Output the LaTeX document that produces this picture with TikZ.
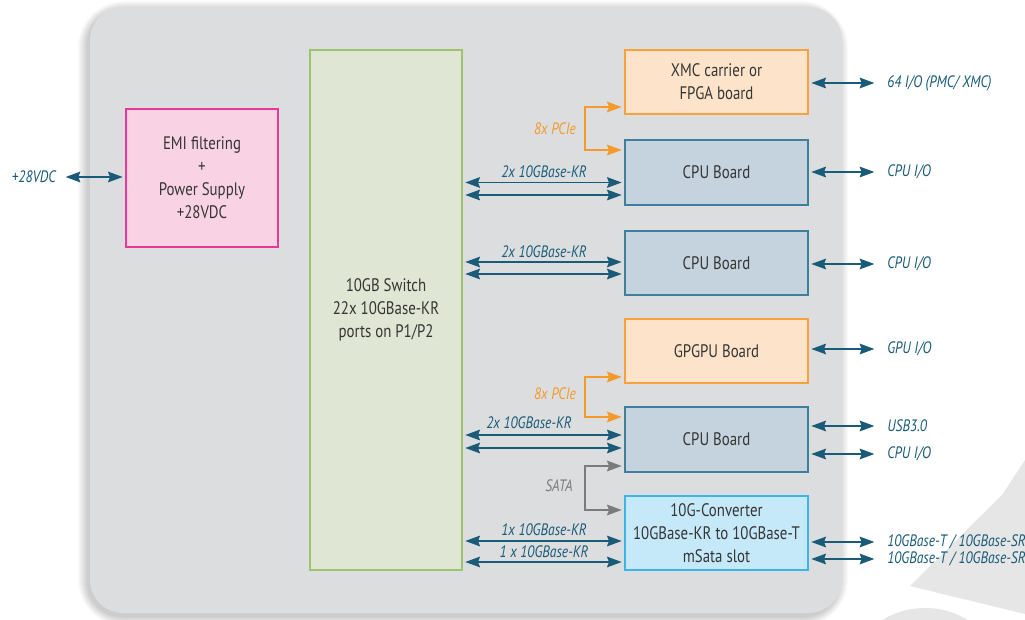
\documentclass[tikz,border=0pt]{standalone}
\usepackage{fontspec}
\setmainfont{PT Sans}[FakeStretch=0.82]
\usetikzlibrary{arrows.meta,calc}
\newdimen\pxu \pxu=0.75pt

\definecolor{panel}{HTML}{DCDDDF}
\definecolor{txt}{HTML}{353535}
\definecolor{teal}{HTML}{195B78}
\definecolor{pcieor}{HTML}{F49A2B}
\definecolor{satagr}{HTML}{7B7B7B}
\definecolor{pinkfill}{HTML}{F9D3E4}
\definecolor{pinkline}{HTML}{E8399A}
\definecolor{greenfill}{HTML}{DFE6D3}
\definecolor{greenline}{HTML}{9FC26E}
\definecolor{orfill}{HTML}{FDE3C9}
\definecolor{orline}{HTML}{F7A23C}
\definecolor{cpufill}{HTML}{C5D3DE}
\definecolor{cpuline}{HTML}{3F7F9B}
\definecolor{convfill}{HTML}{C6E9F9}
\definecolor{convline}{HTML}{3CB4E8}
\definecolor{logogray}{HTML}{E6E6E6}

\tikzset{
  board/.style={draw, line width=1pt, inner sep=0pt, align=center, text=txt,
    font=\fontsize{13.6}{17.2}\selectfont},
  pinkbox/.style={board, fill=pinkfill, draw=pinkline},
  switchbox/.style={board, fill=greenfill, draw=greenline},
  orbox/.style={board, fill=orfill, draw=orline},
  cpubox/.style={board, fill=cpufill, draw=cpuline},
  convbox/.style={board, fill=convfill, draw=convline},
  io/.style={draw=teal, line width=1.1pt, {Stealth[length=11pt, width=8pt, inset=1.5pt]}-{Stealth[length=11pt, width=8pt, inset=1.5pt]}, shorten <=2pt, shorten >=2pt},
  pcie/.style={io, draw=pcieor, shorten <=2pt},
  sata/.style={pcie, draw=satagr},
  iolabel/.style={text=teal, inner sep=0pt, font=\fontsize{12.4}{14}\selectfont\itshape},
  pcielabel/.style={iolabel, text=pcieor},
  satalabel/.style={iolabel, text=satagr},
}

\begin{document}
\begin{tikzpicture}[x=0.75pt, y=-0.75pt]
\useasboundingbox (0,0) rectangle (1025,620);
\fill[white] (0,0) rectangle (1025,620);

% faint logo in the lower right corner
\fill[logogray] (1025,460) -- (1002,495) -- (910,586) -- (1025,614) -- cycle;
\fill[logogray] (925,690) circle[radius=82];

% soft shadow under the chassis panel
\foreach \i in {1,...,10}
  \fill[black, opacity=0.018, rounded corners=25+\i]
    (90-\i-2,7-\i+4) rectangle (842+\i-4,613+\i+3);

% chassis panel
\fill[panel, rounded corners=25] (90,7) rectangle (842,613);

% boards
\node[pinkbox, minimum width=152\pxu, minimum height=138\pxu] (psu) at (202,178)
  {EMI filtering\\+\\Power Supply\\+28VDC};
\node[switchbox, minimum width=152\pxu, minimum height=520\pxu] (sw) at (386,310)
  {10GB Switch\\22x 10GBase-KR\\ports on P1/P2};
\node[orbox, minimum width=183\pxu, minimum height=64\pxu] (xmc) at (716.5,82)
  {XMC carrier or\\FPGA board};
\node[cpubox, minimum width=183\pxu, minimum height=65\pxu] (cpuA) at (716.5,172.5)
  {CPU Board};
\node[cpubox, minimum width=183\pxu, minimum height=64\pxu] (cpuB) at (716.5,263)
  {CPU Board};
\node[orbox, minimum width=183\pxu, minimum height=64\pxu] (gpu) at (716.5,351)
  {GPGPU Board};
\node[cpubox, minimum width=183\pxu, minimum height=65\pxu] (cpuC) at (716.5,439.5)
  {CPU Board};
\node[convbox, minimum width=183\pxu, minimum height=74\pxu] (conv) at (716.5,533)
  {10G-Converter\\10GBase-KR to 10GBase-T\\mSata slot};

% power input
\node[iolabel, anchor=east] (vin) at (56,177) {+28VDC};
\draw[io] ($(vin.east)+(7,0)$) -- (psu.west |- vin.east);

% switch links
\draw[io] (sw.east |- 0,182.5) -- (cpuA.west |- 0,182.5);
\draw[io] (sw.east |- 0,195) -- (cpuA.west |- 0,195);
\node[iolabel] (kA) at (544,172) {2x 10GBase-KR};

\draw[io] (sw.east |- 0,262) -- (cpuB.west |- 0,262);
\draw[io] (sw.east |- 0,274) -- (cpuB.west |- 0,274);
\node[iolabel] (kB) at (544,252) {2x 10GBase-KR};

\draw[io] (sw.east |- 0,435) -- (cpuC.west |- 0,435);
\draw[io] (sw.east |- 0,448) -- (cpuC.west |- 0,448);
\node[iolabel] (kC) at (529,423) {2x 10GBase-KR};

\draw[io] (sw.east |- 0,541) -- (conv.west |- 0,541);
\draw[io] (sw.east |- 0,562) -- (conv.west |- 0,562);
\node[iolabel] (kD) at (544,530) {1x 10GBase-KR};
\node[iolabel] (kE) at (544,552) {1 x 10GBase-KR};

% PCIe and SATA side links
\draw[pcie] (xmc.west |- 0,107) -- (585,107) -- (585,150) -- (cpuA.west |- 0,150);
\node[pcielabel] (pA) at (555,129) {8x PCIe};
\draw[pcie] (gpu.west |- 0,377) -- (585,377) -- (585,417) -- (cpuC.west |- 0,417);
\node[pcielabel] (pB) at (555,394) {8x PCIe};
\draw[sata] (cpuC.west |- 0,466) -- (585,466) -- (585,510) -- (conv.west |- 0,510);
\node[satalabel] (sl) at (559,486) {SATA};

% external I/O
\node[iolabel, anchor=west] (oA) at (887,83) {64 I/O (PMC/ XMC)};
\draw[io] (xmc.east |- oA.west) -- ($(oA.west)+(-10,0)$);
\node[iolabel, anchor=west] (oB) at (887,172) {CPU I/O};
\draw[io] (cpuA.east |- oB.west) -- ($(oB.west)+(-10,0)$);
\node[iolabel, anchor=west] (oC) at (887,264) {CPU I/O};
\draw[io] (cpuB.east |- oC.west) -- ($(oC.west)+(-10,0)$);
\node[iolabel, anchor=west] (oD) at (887,349) {GPU I/O};
\draw[io] (gpu.east |- oD.west) -- ($(oD.west)+(-10,0)$);
\node[iolabel, anchor=west] (oE) at (887,426) {USB3.0};
\draw[io] (cpuC.east |- oE.west) -- ($(oE.west)+(-10,0)$);
\node[iolabel, anchor=west] (oF) at (887,454) {CPU I/O};
\draw[io] (cpuC.east |- oF.west) -- ($(oF.west)+(-10,0)$);
\node[iolabel, anchor=west] (oG) at (887,542) {10GBase-T / 10GBase-SR};
\draw[io] (conv.east |- oG.west) -- ($(oG.west)+(-10,0)$);
\node[iolabel, anchor=west] (oH) at (887,559) {10GBase-T / 10GBase-SR};
\draw[io] (conv.east |- oH.west) -- ($(oH.west)+(-10,0)$);
\end{tikzpicture}
\end{document}
